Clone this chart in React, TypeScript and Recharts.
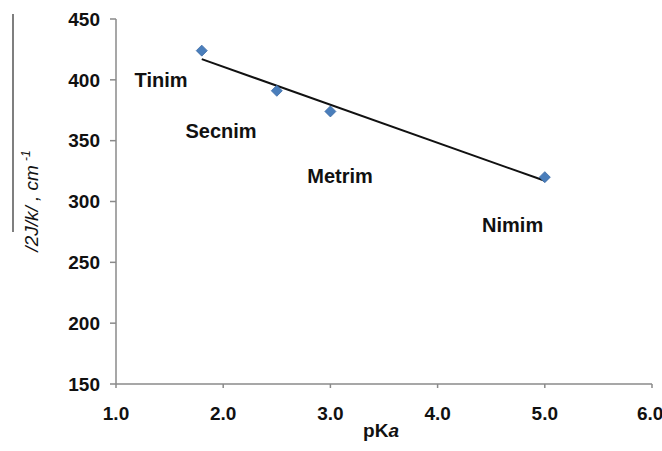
import { CartesianGrid, Scatter, ScatterChart, XAxis, YAxis } from "recharts";

const pKa = [1.8, 2.5, 3.0, 5.0];
const coupling = [424, 391, 374, 320];

const compoundNames = ["Tinim", "Secnim", "Metrim", "Nimim"];
const labelPKa = [1.42, 1.98, 3.09, 4.7];
const labelCoupling = [400, 358, 321, 281];

const trendPKa = [1.8, 5.0];
const trendCoupling = [417, 317];

const xTicks = [1, 2, 3, 4, 5, 6];
const yTicks = [150, 200, 250, 300, 350, 400, 450];

const points = pKa.map((x, i) => ({ x, y: coupling[i] }));
const names = compoundNames.map((name, i) => ({ x: labelPKa[i], y: labelCoupling[i], name }));
const trend = trendPKa.map((x, i) => ({ x, y: trendCoupling[i] }));

const font = '"Liberation Sans", Arial, sans-serif';

function Diamond(props: any) {
  const { cx, cy } = props;
  const r = 5.5;
  return (
    <polygon
      points={`${cx},${cy - r} ${cx + r},${cy} ${cx},${cy + r} ${cx - r},${cy}`}
      fill="#4a7ebb"
      stroke="#3a6aa5"
      strokeWidth={0.8}
    />
  );
}

function NameLabel(props: any) {
  const { cx, cy, payload } = props;
  return (
    <text
      x={cx}
      y={cy}
      textAnchor="middle"
      dominantBaseline="central"
      fontFamily={font}
      fontSize={20}
      fontWeight="bold"
      fill="#111"
    >
      {payload.name}
    </text>
  );
}

function YTitle() {
  return (
    <g>
      <line x1={13} y1={14} x2={13} y2={232} stroke="#555" strokeWidth={1.5} />
      <text
        transform="translate(38, 201) rotate(-90)"
        textAnchor="middle"
        fontFamily={font}
        fontSize={19}
        fontStyle="italic"
        fill="#111"
      >
        /2J/k/ , cm
        <tspan fontSize={12} dy={-8} dx={4}>-1</tspan>
      </text>
    </g>
  );
}

function XTitle() {
  return (
    <text x={381} y={437} textAnchor="middle" fontFamily={font} fontSize={19} fontWeight="bold" fill="#111">
      pK<tspan fontStyle="italic">a</tspan>
    </text>
  );
}

export default function App() {
  return (
    <div style={{ position: "absolute", left: 0, top: 0, background: "#fff" }}>
      <ScatterChart width={662} height={451} margin={{ top: 19, right: 10, bottom: 7, left: 0 }}>
        <CartesianGrid stroke="none" />
        <XAxis
          type="number"
          dataKey="x"
          domain={[1, 6]}
          ticks={xTicks}
          tickFormatter={(v: number) => v.toFixed(1)}
          height={60}
          stroke="#8a8a8a"
          strokeWidth={1.5}
          tickSize={4}
          tickMargin={19}
          tick={{ fill: "#111", fontSize: 19, fontWeight: "bold", fontFamily: font }}
          label={<XTitle />}
        />
        <YAxis
          type="number"
          dataKey="y"
          domain={[150, 450]}
          ticks={yTicks}
          width={116}
          stroke="#8a8a8a"
          strokeWidth={1.5}
          tickSize={6}
          tickMargin={10}
          tick={{ fill: "#111", fontSize: 19, fontWeight: "bold", fontFamily: font }}
          label={<YTitle />}
        />
        <Scatter
          data={trend}
          line={{ stroke: "#111", strokeWidth: 2 }}
          shape={() => <g />}
          isAnimationActive={false}
        />
        <Scatter data={points} shape={<Diamond />} isAnimationActive={false} />
        <Scatter data={names} shape={<NameLabel />} isAnimationActive={false} />
      </ScatterChart>
    </div>
  );
}
